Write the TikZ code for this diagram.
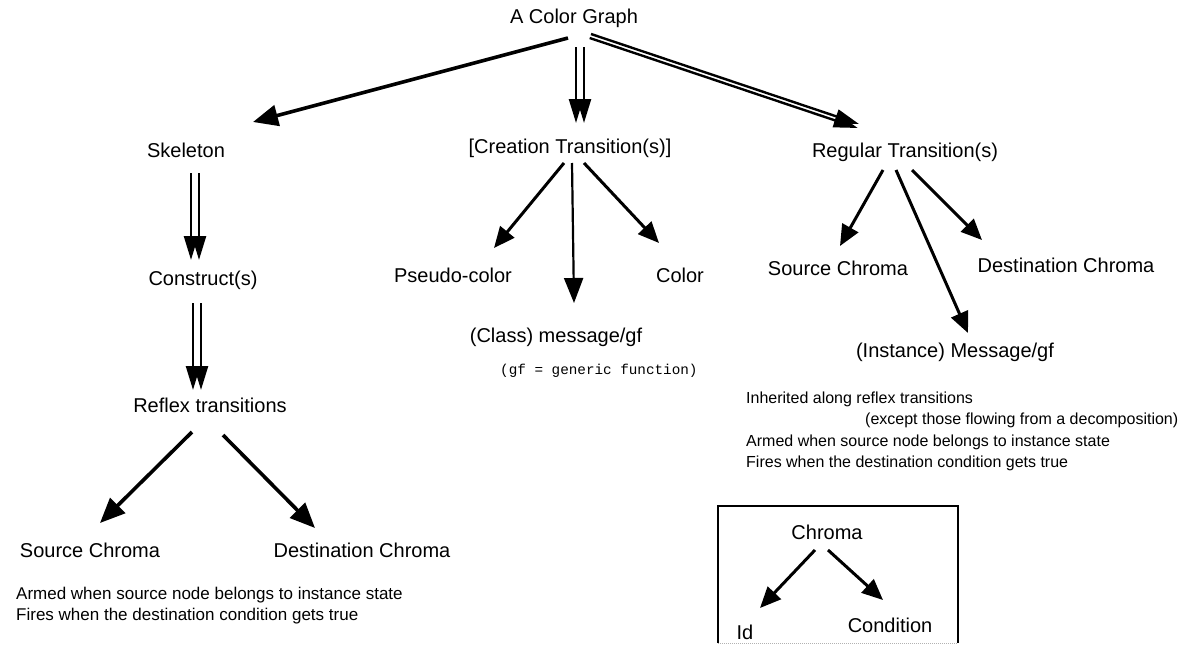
\documentclass[tikz,border=0pt]{standalone}
\usepackage{fontspec}
\setmainfont{Liberation Sans}
\newfontfamily\monof{Liberation Mono}
\usetikzlibrary{arrows.meta,calc}
\tikzset{
  lbl/.style={inner sep=0pt, font=\fontsize{20}{24}\selectfont},
  smallL/.style={inner sep=0pt, anchor=west, font=\fontsize{17}{20}\selectfont},
  smallR/.style={inner sep=0pt, anchor=west, font=\fontsize{16}{19}\selectfont},
  mono/.style={inner sep=0pt, anchor=west, font=\monof\fontsize{14.3}{17}\selectfont},
  arr/.style={line width=3.6pt, -{Triangle[length=25pt,width=21pt]}},
  thinarr/.style={line width=2.2pt, -{Triangle[length=25pt,width=19pt]}},
  midarr/.style={line width=3pt, -{Triangle[length=21pt,width=18pt]}},
  dbl/.style={line width=2.4pt, -{Triangle[length=24pt,width=14pt]}},
}
\begin{document}
\begin{tikzpicture}[x=1pt,y=-1pt]
\useasboundingbox (0,0) rectangle (1201,645);
% nodes
\node[lbl] (cg) at (574,18) {A Color Graph};
\node[lbl] (skel) at (186,150) {Skeleton};
\node[lbl] (creat) at (570,148) {[Creation Transition(s)]};
\node[lbl] (reg) at (905,152) {Regular Transition(s)};
\node[lbl] (cons) at (203,280) {Construct(s)};
\node[lbl] (refl) at (210,405) {Reflex transitions};
\node[lbl] (srcL) at (90,550) {Source Chroma};
\node[lbl] (dstL) at (362,550) {Destination Chroma};
\node[smallL] (armL) at (16,595) {Armed when source node belongs to instance state};
\node[smallL] (fireL) at (16,616) {Fires when the destination condition gets true};
\node[lbl] (pseudo) at (453,275) {Pseudo-color};
\node[lbl] (color) at (680,275) {Color};
\node[lbl] (cmsg) at (556,337) {(Class) message/gf};
\node[mono] (gfnote) at (500,371) {(gf = generic function)};
\node[lbl] (srcR) at (838,268) {Source Chroma};
\node[lbl] (dstR) at (1066,265) {Destination Chroma};
\node[lbl] (imsg) at (955,352) {(Instance) Message/gf};
\node[smallR] (inh) at (746,399) {Inherited along reflex transitions};
\node[smallR] (exc) at (865,420) {(except those flowing from a decomposition)};
\node[smallR] (armR) at (746,442) {Armed when source node belongs to instance state};
\node[smallR] (fireR) at (746,463) {Fires when the destination condition gets true};
\node[lbl] (chroma) at (827,532) {Chroma};
\node[lbl] (idn) at (745,632) {Id};
\node[lbl] (cond) at (890,625) {Condition};
% box
\draw[line width=1.3pt] (718,643) -- (718,506) -- (958,506) -- (958,643);
\draw[line width=1pt, gray!60, densely dotted] (718,643) -- (958,643);
% single arrows
\draw[arr] ($(cg)+(-6,20)$) -- ($(skel)+(67,-28)$);
\draw[arr] ($(refl)+(-18,27)$) -- ($(srcL)+(10,-27)$);
\draw[arr] ($(refl)+(13,30)$) -- ($(dstL)+(-47,-22)$);
\draw[midarr] ($(creat)+(-6,15)$) -- ($(pseudo)+(41,-27)$);
\draw[thinarr] ($(creat)+(2,15)$) -- ($(cmsg)+(18,-34)$);
\draw[midarr] ($(creat)+(14,15)$) -- ($(color)+(-21,-32)$);
\draw[midarr] ($(reg)+(-22,18)$) -- ($(srcR)+(2,-22)$);
\draw[midarr] ($(reg)+(-9,18)$) -- ($(imsg)+(13,-19)$);
\draw[midarr] ($(reg)+(7,18)$) -- ($(dstR)+(-84,-25)$);
\draw[midarr] ($(chroma)+(-12,18)$) -- ($(idn)+(15,-24)$);
\draw[midarr] ($(chroma)+(1,18)$) -- ($(cond)+(-7,-25)$);
% double arrows
\draw[dbl] ($(cg)+(2,29)$) -- ($(creat)+(6,-25)$);
\draw[dbl] ($(cg)+(10,29)$) -- ($(creat)+(14,-25)$);
\draw[dbl] ($(cg)+(17,16)$) -- ($(reg)+(-46,-28)$);
\draw[dbl] ($(cg)+(15.7,20)$) -- ($(reg)+(-47.3,-24)$);
\draw[dbl] ($(skel)+(5,23)$) -- ($(cons)+(-12,-20)$);
\draw[dbl] ($(skel)+(13,23)$) -- ($(cons)+(-4,-20)$);
\draw[dbl] ($(cons)+(-10,23)$) -- ($(refl)+(-17,-15)$);
\draw[dbl] ($(cons)+(-2,23)$) -- ($(refl)+(-9,-15)$);
\end{tikzpicture}
\end{document}
